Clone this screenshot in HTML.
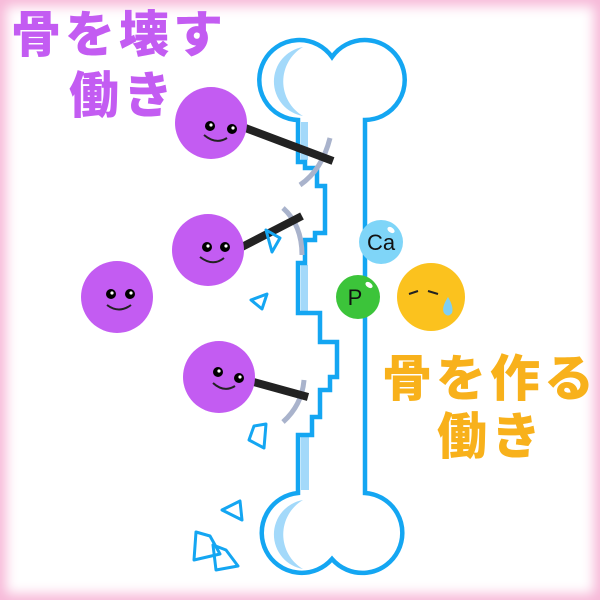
<!DOCTYPE html>
<html><head><meta charset="utf-8"><style>
html,body{margin:0;padding:0;background:#fff}
.w{position:relative;width:600px;height:600px;overflow:hidden;background:#fff;box-shadow:inset 0 0 12px 6px #f7b8d8}
svg{position:absolute;left:0;top:0}
.t{position:absolute;font-family:"Liberation Sans","Noto Sans CJK JP",sans-serif;font-weight:900;font-size:50px;line-height:50px;letter-spacing:4px;white-space:nowrap}
</style></head><body><div class="w">
<svg width="600" height="600" viewBox="0 0 600 600">
<!-- light blue inner strips -->
<path d="M303 47 A35 35 0 0 0 303 116 A40 40 0 0 1 303 47Z" fill="#a3d9fa"/>
<path d="M303 500 A35 35 0 0 0 303 569 A40 40 0 0 1 303 500Z" fill="#a3d9fa"/>
<rect x="301" y="122" width="7" height="38" fill="#a3d9fa"/>
<rect x="301" y="265" width="7" height="46" fill="#a3d9fa"/>
<rect x="301" y="437" width="8" height="53" fill="#a3d9fa"/>
<!-- bone outline -->
<path d="M298 120 L298 162 L305 162 L305 168 L317 168 L317 186 L325 186 L325 233 L315 233 L315 240 L305 240 L305 263 L298 263 L298 313 L320 313 L320 342 L337 342 L337 377 L330 377 L330 390 L320 390 L320 417 L312 417 L312 435 L298 435 L298 493
 A40 40 0 1 0 332 559 A40 40 0 1 0 365 493 L365 120 A40 40 0 1 0 332 57 A40 40 0 1 0 298 120Z" fill="none" stroke="#14a6f2" stroke-width="4.5" stroke-linejoin="miter"/>
<!-- grey claws -->
<path d="M330 138 Q322 170 300 185" stroke="#a9b3cc" stroke-width="5" fill="none"/>
<path d="M283 208 Q302 225 302 255" stroke="#a9b3cc" stroke-width="5" fill="none"/>
<path d="M304 380 Q302 405 283 422" stroke="#a9b3cc" stroke-width="5" fill="none"/>
<!-- sticks -->
<line x1="240" y1="126" x2="333" y2="161" stroke="#222" stroke-width="8"/>
<line x1="240" y1="248" x2="302" y2="216" stroke="#222" stroke-width="8"/>
<line x1="250" y1="381" x2="308" y2="397" stroke="#222" stroke-width="8"/>
<!-- fragments -->
<g fill="none" stroke="#14a6f2" stroke-width="3" stroke-linejoin="round">
<path d="M266 230 L280 238 L272 252 Z"/>
<path d="M251 300 L267 294 L262 309 Z"/>
<path d="M254 426 L266 424 L264 448 L249 440 Z"/>
<path d="M222 510 L240 501 L242 520 Z"/>
<path d="M196 532 L210 536 L220 554 L194 560 Z"/>
<path d="M213 545 L226 550 L238 566 L216 570 Z"/>
</g>
<!-- balls -->
<g fill="#c35cf2">
<circle cx="211" cy="123" r="36"/><circle cx="208" cy="250" r="36"/>
<circle cx="117" cy="297" r="36"/><circle cx="219" cy="377" r="36"/>
</g>
<g>
<g transform="translate(211,123)"><circle cx="-1" cy="3" r="5"/><circle cx="21" cy="6" r="5"/><circle cx="0" cy="2" r="1.6" fill="#fff"/><circle cx="22" cy="5" r="1.6" fill="#fff"/><path d="M-7 12 Q5 22 16 15" stroke="#222" stroke-width="2" fill="none"/></g>
<g transform="translate(208,250)"><circle cx="-1" cy="-3" r="5"/><circle cx="17" cy="-3" r="5"/><circle cx="0" cy="-4" r="1.6" fill="#fff"/><circle cx="18" cy="-4" r="1.6" fill="#fff"/><path d="M-8 7 Q5 17 16 8" stroke="#222" stroke-width="2" fill="none"/></g>
<g transform="translate(117,297)"><circle cx="-6" cy="-3" r="5"/><circle cx="13" cy="-3" r="5"/><circle cx="-5" cy="-4" r="1.6" fill="#fff"/><circle cx="14" cy="-4" r="1.6" fill="#fff"/><path d="M-10 8 Q2 17 14 8" stroke="#222" stroke-width="2" fill="none"/></g>
<g transform="translate(219,377)"><circle cx="-1" cy="-5" r="5"/><circle cx="20" cy="1" r="5"/><circle cx="0" cy="-6" r="1.6" fill="#fff"/><circle cx="21" cy="0" r="1.6" fill="#fff"/><path d="M-6 6 Q5 16 16 9" stroke="#222" stroke-width="2" fill="none"/></g>
</g>
<!-- Ca / P / yellow -->
<circle cx="381" cy="242" r="22" fill="#7fd5f8"/>
<circle cx="358" cy="297" r="22" fill="#3cc43a"/>
<ellipse cx="391" cy="230" rx="4" ry="2.5" fill="#fff" transform="rotate(35 391 230)"/>
<ellipse cx="369" cy="285" rx="4" ry="2.5" fill="#fff" transform="rotate(35 369 285)"/>
<text x="381" y="250" font-family="Liberation Sans,sans-serif" font-size="22" text-anchor="middle" fill="#111">Ca</text>
<text x="355" y="305" font-family="Liberation Sans,sans-serif" font-size="22" text-anchor="middle" fill="#111">P</text>
<circle cx="431" cy="297" r="34" fill="#fbc21e"/>
<path d="M409 294 L418 291 M428 291 L438 294" stroke="#222" stroke-width="2"/>
<path d="M448 297 Q441 308 444 313 Q448 318 452 313 Q454 307 448 297Z" fill="#7fcff2"/>
</svg>
<div class="t" style="left:11px;top:10px;color:#c35cf2">骨を壊す</div>
<div class="t" style="left:69px;top:71px;color:#c35cf2">働き</div>
<div class="t" style="left:382px;top:354px;color:#f8b11b">骨を作る</div>
<div class="t" style="left:437px;top:412px;color:#f8b11b">働き</div>
</div></body></html>
